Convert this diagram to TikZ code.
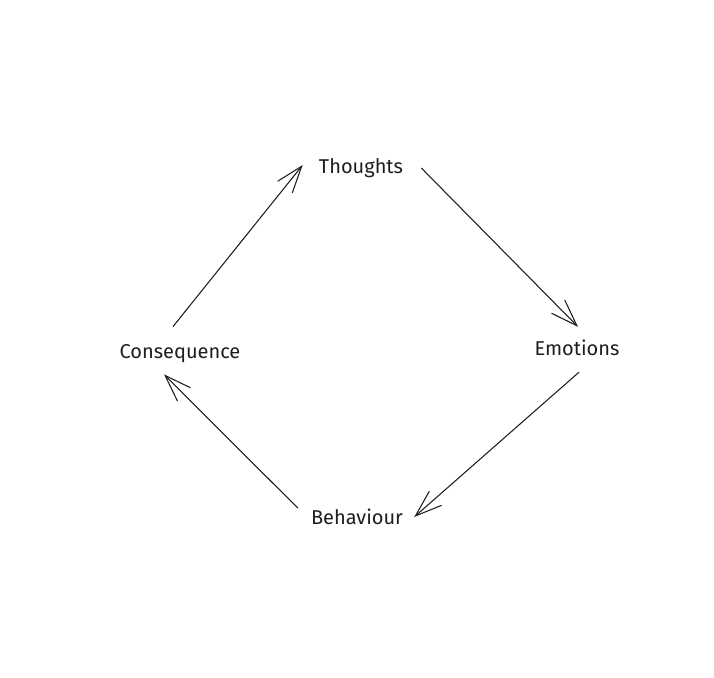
\documentclass[tikz,border=0pt]{standalone}
\usepackage{fontspec}
\setmainfont{Fira Sans}
\usepackage{tikz}
\usetikzlibrary{arrows.meta, positioning, calc}
\definecolor{inchiostro}{RGB}{30,30,30}

\begin{document}
\begin{tikzpicture}[x=0.75pt,y=-0.75pt,
    fase/.style={inner sep=0pt,text=inchiostro,font=\fontsize{15}{18}\selectfont},
    freccia/.style={-{Straight Barb[length=20pt,width=14pt,line width=0.8pt]},line width=0.8pt,inchiostro}]
    \useasboundingbox (0,0) rectangle (714,678);

    % Fasi del ciclo
    \node[fase] (thou) at (361,168) {Thoughts};
    \node[fase] (emo) at (577,348) {Emotions};
    \node[fase] (beh) at (357,517) {Behaviour};
    \node[fase] (cons) at (180,354) {Consequence};

    % Connessioni
    \draw[freccia] ($(cons.north)+(-7,-18)$) -- ($(thou.west)+(-16,-3)$);
    \draw[freccia] ($(thou.east)+(18,0)$) -- ($(emo.north)+(1,-13)$);
    \draw[freccia] ($(emo.south)+(2,16)$) -- ($(beh.east)+(11,0)$);
    \draw[freccia] ($(beh.west)+(-13,-9)$) -- ($(cons.south)+(-16,11)$);
\end{tikzpicture}
\end{document}
